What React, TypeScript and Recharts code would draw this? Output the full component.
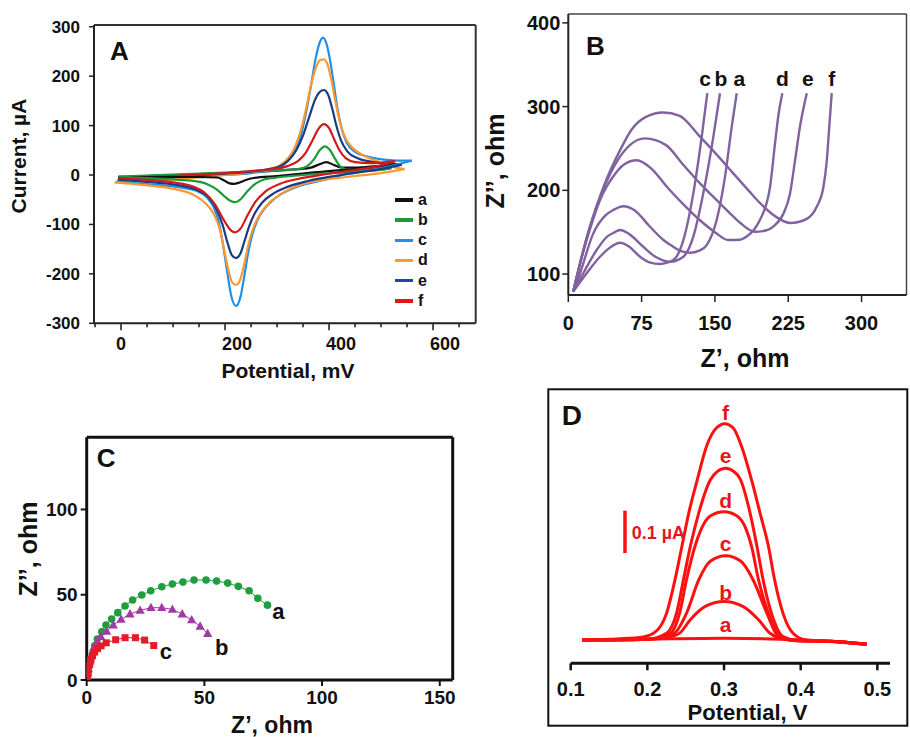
import React from 'react';
import { LineChart, Line, XAxis, YAxis, ScatterChart, Scatter, ReferenceDot, ReferenceLine, Legend } from 'recharts';

const FONT = '"Liberation Sans", Arial, Helvetica, sans-serif';

// ---------- Panel A : cyclic voltammograms (potential mV, current µA) ----------
const aXTicks = [-50, 0, 50, 100, 150, 200, 250, 300, 350, 400, 450, 500, 550, 600, 650];
const aYTicks = [-300, -200, -100, 0, 100, 200, 300];
const aXDomain = [-52, 682];
const aYDomain = [-300, 303.5];

const cvA_fwd = [[-5,-4],[50,-2],[100,0],[150,2],[200,4],[250,6],[300,9],[340,12],[365,15],[380,21],[395,26],[410,20],[424,15],[450,15],[490,18],[530,22]];
const cvA_rev = [[-5,-4],[50,-4],[100,-4],[150,-4],[185,-5],[200,-12],[209,-17],[217,-18],[228,-15],[240,-10],[255,-6],[300,-2],[350,3],[400,8],[450,12],[500,17],[530,22]];
const cvB_fwd = [[-5,-3],[50,-1],[100,1],[150,3],[200,5],[250,7],[300,9],[340,12],[358,18],[372,33],[382,50],[392,58],[402,50],[412,32],[422,17],[440,9],[470,9],[500,11],[520,14]];
const cvB_rev = [[-5,-3],[50,-6],[100,-9],[140,-12],[165,-18],[185,-30],[200,-44],[210,-52],[219,-55],[230,-49],[243,-33],[258,-18],[275,-9],[300,-5],[350,0],[400,4],[450,7],[500,11],[520,14]];
const cvC_fwd = [[-8,-12],[50,-9],[100,-6],[150,-3],[200,0],[250,4],[285,10],[306,16],[322,30],[335,50],[347,85],[357,133],[366,185],[374,235],[381,265],[388,278],[395,266],[402,232],[409,185],[416,135],[424,95],[434,65],[450,47],[472,38],[498,32],[530,29],[559,29]];
const cvC_rev = [[-8,-12],[43,-18],[107,-24],[145,-32],[165,-45],[178,-65],[188,-95],[196,-140],[204,-195],[212,-245],[221,-265],[230,-245],[237,-205],[244,-160],[252,-122],[262,-92],[276,-68],[295,-48],[320,-32],[350,-20],[390,-10],[434,2],[500,14],[559,29]];
const cvD_fwd = [[-12,-15],[50,-12],[100,-9],[150,-5],[200,0],[250,6],[285,12],[306,20],[322,35],[335,58],[347,95],[357,140],[366,185],[375,218],[382,232],[390,234],[397,224],[404,195],[412,150],[420,110],[430,78],[445,55],[470,38],[500,25],[525,16],[545,12]];
const cvD_rev = [[-12,-15],[40,-20],[100,-28],[135,-38],[160,-55],[178,-78],[190,-110],[199,-155],[207,-195],[214,-218],[221,-222],[229,-212],[237,-180],[245,-140],[255,-105],[268,-78],[285,-56],[305,-40],[330,-26],[370,-13],[434,-4],[500,4],[545,12]];
const cvE_fwd = [[-6,-9],[50,-6],[100,-3],[150,0],[200,3],[250,7],[285,12],[306,18],[322,30],[337,50],[350,80],[362,118],[373,152],[382,168],[390,172],[398,163],[406,135],[414,100],[423,70],[435,48],[455,34],[480,27],[510,23],[540,21]];
const cvE_rev = [[-6,-9],[50,-14],[107,-20],[145,-30],[168,-45],[183,-68],[195,-100],[205,-138],[213,-162],[221,-168],[229,-160],[237,-135],[246,-105],[257,-78],[272,-55],[292,-38],[320,-24],[360,-12],[410,-2],[460,6],[510,14],[540,21]];
const cvF_fwd = [[-5,-6],[50,-4],[100,-2],[150,1],[200,4],[250,8],[290,12],[320,18],[340,28],[355,45],[368,70],[380,94],[390,103],[400,95],[410,72],[420,50],[432,34],[450,26],[480,24],[510,26],[527,28]];
const cvF_rev = [[-5,-6],[50,-10],[100,-15],[140,-24],[163,-38],[181,-60],[196,-88],[208,-108],[219,-116],[230,-108],[243,-82],[258,-55],[278,-33],[305,-18],[340,-8],[390,1],[440,9],[490,17],[527,28]];

// ---------- Panel B : Nyquist plots (Z', Z'') ----------
const bXTicks = [0, 75, 150, 225, 300];
const bYTicks = [100, 200, 300, 400];
const bXDomain = [0, 346];
const bYDomain = [75, 410.6];
const eisB_a = [[5,79],[12,101],[25.6,148.6],[38,170],[46,176.5],[56.3,181],[68,176],[83.6,156.5],[97,141],[107.4,132.6],[116,127],[124.5,125.4],[134,128],[141.6,134.6],[151.8,164.5],[160.3,216],[167.2,276],[172.3,316]];
const eisB_b = [[5,79],[15.3,101],[29,128.7],[40,145],[46,149],[52.9,152.6],[62,148],[76.7,132.6],[90,120],[104,114.7],[117.7,120.7],[127.9,144.6],[138.1,196.4],[148.4,264],[155.2,316]];
const eisB_c = [[5,79],[18.8,101],[32.4,120.7],[42,131],[52.9,137.4],[62,133],[73.4,120.7],[83,114],[93.8,112],[107.4,116.7],[117.7,140.6],[127.9,196.4],[136.5,264],[142.2,316]];
const eisB_d = [[5,79],[12,112],[22,153],[33,190],[45,215],[57,231],[70,236],[85,226],[101,204],[118,183],[135,164],[150,150],[163.7,140.6],[175,141],[182.5,145],[190,153],[196,164.5],[206.4,204],[211.5,256],[215,290],[219,316]];
const eisB_e = [[5,79],[12,113],[22,156],[36,202],[50,235],[63,254],[78.5,262],[100,254],[118,230],[135,208],[152,188],[165,173],[176,161],[191,150.5],[202,152],[210,157],[220,172],[226.8,196],[232,236],[237,276],[244,316]];
const eisB_f = [[5,79],[12,113],[22,156],[36,204],[53,248],[65,273],[80,288],[97,293],[114,289],[134,265],[150,245],[169,220],[185,199],[196,185],[213,168],[227,161],[244,166],[254,180],[261,204],[264.5,236],[267,276],[269.5,316]];
const bLabels = [['c',140],['b',156.2],['a',175],['d',219],['e',245],['f',269.5]];

// ---------- Panel C : Nyquist plots with markers ----------
const cXTicks = [0, 50, 100, 150];
const cYTicks = [0, 50, 100];
const cXDomain = [0, 155.5];
const cYDomain = [0, 142.3];
const eisC_a = [[0.8,5],[1.5,10],[2.4,15],[3.4,20],[4.5,24],[6.4,28.3],[8.2,32.2],[10.6,35.7],[13.2,39.5],[16.3,43.4],[19.5,46.9],[23.4,49.8],[27.2,52.3],[31.9,54.7],[36.4,56.3],[40.9,57.4],[45.6,58.6],[50.7,58.6],[55.2,58],[59.9,56.8],[64.4,54.9],[69,52.3],[72.7,47.9],[76.8,43.9]];
const eisC_b = [[0.5,4],[1,9],[1.8,14],[3,19],[4.4,22.5],[6,25.5],[8.5,28.5],[11.3,32.2],[14.6,35.6],[18.4,38.7],[22.7,40.8],[27.3,42.4],[31.9,42.4],[36.4,41.4],[40.6,38.7],[44.6,35.2],[48.2,31.5],[51.4,27.2]];
const eisC_c = [[0.3,1],[0.5,3.5],[0.8,6.5],[1.2,9.3],[1.8,12],[2.5,14.3],[3.4,16.4],[4.6,18.4],[6.1,20],[8.3,21.8],[12.3,23.6],[16.3,24.8],[20.7,24.8],[24.6,23.4],[28.5,20.2]];
const cLabels = [['a',81.4,40.3],['b',57.4,19.2],['c',33.6,16.7]];

// ---------- Panel D : DPV peaks (V, µA) ----------
const dXTicks = [0.1, 0.2, 0.3, 0.4, 0.5];
const dpvA = [[0.115,0.004],[0.2,0.006],[0.3,0.008],[0.4,0.004],[0.486,-0.006]];
const dpvB = [[0.115,0.004],[0.2,0.006],[0.225,0.01],[0.242,0.02],[0.256,0.052],[0.275,0.083],[0.3,0.095],[0.325,0.083],[0.345,0.052],[0.36,0.02],[0.38,0.006],[0.45,0],[0.486,-0.006]];
const dpvC = [[0.115,0.004],[0.2,0.006],[0.235,0.02],[0.251,0.067],[0.267,0.146],[0.282,0.19],[0.302,0.203],[0.322,0.19],[0.338,0.146],[0.356,0.067],[0.371,0.012],[0.39,0.003],[0.45,0],[0.486,-0.006]];
const dpvD = [[0.115,0.004],[0.2,0.006],[0.23,0.02],[0.242,0.067],[0.251,0.146],[0.262,0.225],[0.27,0.265],[0.282,0.297],[0.3,0.307],[0.317,0.297],[0.329,0.265],[0.336,0.225],[0.345,0.146],[0.358,0.067],[0.373,0.012],[0.39,0.003],[0.45,0],[0.486,-0.006]];
const dpvE = [[0.115,0.004],[0.2,0.006],[0.225,0.02],[0.238,0.067],[0.247,0.146],[0.256,0.225],[0.267,0.304],[0.282,0.382],[0.291,0.402],[0.302,0.41],[0.313,0.402],[0.321,0.385],[0.334,0.304],[0.343,0.225],[0.351,0.146],[0.362,0.067],[0.377,0.012],[0.395,0.003],[0.45,0],[0.486,-0.006]];
const dpvF = [[0.115,0.004],[0.15,0.006],[0.19,0.01],[0.208,0.02],[0.225,0.067],[0.236,0.146],[0.245,0.225],[0.254,0.304],[0.265,0.382],[0.277,0.461],[0.29,0.505],[0.301,0.515],[0.312,0.505],[0.323,0.461],[0.336,0.382],[0.347,0.304],[0.358,0.225],[0.366,0.146],[0.377,0.067],[0.39,0.02],[0.408,0.004],[0.45,0],[0.486,-0.006]];
const dLabels = [['f',0.302,0.542],['e',0.302,0.4395],['d',0.302,0.333],['c',0.302,0.233],['b',0.302,0.116],['a',0.302,0.041]];
const scaleBar = { x: 0.1708, y0: 0.2097, y1: 0.3097, text: '0.1 µA', textY: 0.257 };

const pts = (arr: number[][]) => arr.map(([x, y]) => ({ x, y }));

const cvSeries = [
  { key: 'a', color: '#111111', legend: '#111111', fwd: pts(cvA_fwd), rev: pts(cvA_rev) },
  { key: 'b', color: '#1a9a3a', legend: '#1a9a3a', fwd: pts(cvB_fwd), rev: pts(cvB_rev) },
  { key: 'c', color: '#1e90e6', legend: '#1e90e6', fwd: pts(cvC_fwd), rev: pts(cvC_rev) },
  { key: 'd', color: '#ff9830', legend: '#ff9830', fwd: pts(cvD_fwd), rev: pts(cvD_rev) },
  { key: 'e', color: '#1c3c82', legend: '#2b40b0', fwd: pts(cvE_fwd), rev: pts(cvE_rev) },
  { key: 'f', color: '#d11a1a', legend: '#e0161e', fwd: pts(cvF_fwd), rev: pts(cvF_rev) },
];
const eisBSeries = [eisB_a, eisB_b, eisB_c, eisB_d, eisB_e, eisB_f].map(pts);
const dpvSeries = [dpvA, dpvB, dpvC, dpvD, dpvE, dpvF].map(pts);

const PURPLE = '#8062a0';
const C_GREEN = '#1e9e3e';
const C_PURPLE = '#a23aa6';
const C_RED = '#e31b2a';
const D_RED = '#ff1010';

const AxisTickA = (props: any) => {
  const { x, y, payload } = props;
  const v = Number(payload.value);
  const major = v % 200 === 0;
  return (
    <g>
      <line x1={x} x2={x} y1={y} y2={y + (major ? 7 : 4)} stroke="#222" strokeWidth={1.6} />
      {major ? (
        <text x={x + (v === 0 ? 0 : 12)} y={y + 27} textAnchor="middle" fontSize={18} fontWeight={700} fill="#111" fontFamily={FONT}>
          {v}
        </text>
      ) : null}
    </g>
  );
};

const LegendA = () => (
  <div style={{ position: 'relative', width: 50, height: 125, fontFamily: FONT }}>
    {cvSeries.map((s, i) => (
      <div key={s.key} style={{ position: 'absolute', left: 0, top: i * 20.15, height: 20, display: 'flex', alignItems: 'center' }}>
        <div style={{ width: 18, height: 3.5, background: s.legend }} />
        <span style={{ marginLeft: 5, fontSize: 16, fontWeight: 700, color: '#111', lineHeight: '20px' }}>{s.key}</span>
      </div>
    ))}
  </div>
);

const tickStyle = (size: number, fill = '#111') => ({ fontSize: size, fontWeight: 700, fill, fontFamily: FONT });

// top and right edges of a plot frame, placed at the domain limits
const frame = (xMax: number, yMax: number, stroke: string, w: number) => [
  <ReferenceLine key="ft" y={yMax} stroke={stroke} strokeWidth={w} ifOverflow="visible" />,
  <ReferenceLine key="fr" x={xMax} stroke={stroke} strokeWidth={w} ifOverflow="visible" />,
];

export default function App() {
  return (
    <div style={{ position: 'absolute', left: 0, top: 0, width: 910, height: 737, overflow: 'hidden', background: '#fff', fontFamily: FONT }}>
      {/* Panel A */}
      <div style={{ position: 'absolute', left: 0, top: 0 }}>
        <LineChart width={480} height={390} margin={{ top: 25, right: 4.3, bottom: 0, left: 0 }} style={{ fontFamily: FONT }}>
          <XAxis type="number" dataKey="x" domain={aXDomain} allowDataOverflow ticks={aXTicks} interval={0}
            tick={AxisTickA} tickLine={false} tickSize={0} tickMargin={0} height={66.7} axisLine={{ stroke: '#222', strokeWidth: 2 }} />
          <YAxis type="number" domain={aYDomain} allowDataOverflow ticks={aYTicks} interval={0} width={94} tickSize={5} tickMargin={9}
            tick={tickStyle(17)} axisLine={{ stroke: '#222', strokeWidth: 2 }} tickLine={{ stroke: '#222', strokeWidth: 1.5 }} />
          {frame(aXDomain[1], aYDomain[1], '#333', 2)}
          {cvSeries.map((s) => (
            <Line key={s.key + 'f'} data={s.fwd} dataKey="y" type="monotone" stroke={s.color} strokeWidth={2.2} dot={false} isAnimationActive={false} legendType="none" />
          ))}
          {cvSeries.map((s) => (
            <Line key={s.key + 'r'} data={s.rev} dataKey="y" type="monotone" stroke={s.color} strokeWidth={2.2} dot={false} isAnimationActive={false} legendType="none" />
          ))}
          <Legend layout="horizontal" verticalAlign="middle" align="center" content={() => <LegendA />}
            wrapperStyle={{ left: 395, top: 190, width: 50, height: 125 }} />
        </LineChart>
      </div>

      {/* Panel B */}
      <div style={{ position: 'absolute', left: 480, top: 0 }}>
        <LineChart width={430} height={380} margin={{ top: 14, right: 3.5, bottom: 0, left: 0 }} style={{ fontFamily: FONT }}>
          <XAxis type="number" dataKey="x" domain={bXDomain} allowDataOverflow ticks={bXTicks} interval={0} height={85}
            tickSize={7} tickMargin={14} tick={tickStyle(20)} axisLine={{ stroke: '#222', strokeWidth: 2 }} tickLine={{ stroke: '#222', strokeWidth: 1.5 }} />
          <YAxis type="number" domain={bYDomain} allowDataOverflow ticks={bYTicks} interval={0} width={88.3} tickSize={6} tickMargin={2}
            tick={tickStyle(20)} axisLine={{ stroke: '#222', strokeWidth: 2 }} tickLine={{ stroke: '#222', strokeWidth: 1.5 }} />
          {frame(bXDomain[1], bYDomain[1], '#444', 1.5)}
          {eisBSeries.map((d, i) => (
            <Line key={'b' + i} data={d} dataKey="y" type="monotone" stroke={PURPLE} strokeWidth={2.4} dot={false} isAnimationActive={false} legendType="none" />
          ))}
          {bLabels.map(([t, x]) => (
            <ReferenceDot key={'bl' + t} x={x as number} y={333} r={0} fill="none" stroke="none"
              label={{ value: t as string, position: 'center', fontSize: 21, fontWeight: 700, fill: '#111', fontFamily: FONT }} />
          ))}
        </LineChart>
      </div>

      {/* Panel C */}
      <div style={{ position: 'absolute', left: 0, top: 420 }}>
        <ScatterChart width={470} height={317} margin={{ top: 17.3, right: 17.3, bottom: 0, left: 0 }} style={{ fontFamily: FONT }}>
          <XAxis type="number" dataKey="x" domain={cXDomain} allowDataOverflow ticks={cXTicks} interval={0} height={57}
            tickSize={6} tickMargin={5} tick={tickStyle(19)} axisLine={{ stroke: '#111', strokeWidth: 3 }} tickLine={{ stroke: '#111', strokeWidth: 2 }} />
          <YAxis type="number" dataKey="y" domain={cYDomain} allowDataOverflow ticks={cYTicks} interval={0} width={86.7} tickSize={6} tickMargin={3}
            tick={tickStyle(19)} axisLine={{ stroke: '#111', strokeWidth: 3 }} tickLine={{ stroke: '#111', strokeWidth: 2 }} />
          {frame(cXDomain[1], cYDomain[1], '#111', 3)}
          <Scatter data={pts(eisC_a)} fill={C_GREEN} line={{ stroke: C_GREEN, strokeWidth: 1 }} isAnimationActive={false}
            shape={(p: any) => <circle cx={p.cx} cy={p.cy} r={3.8} fill={C_GREEN} />} />
          <Scatter data={pts(eisC_b)} fill={C_PURPLE} line={{ stroke: C_PURPLE, strokeWidth: 1 }} isAnimationActive={false}
            shape={(p: any) => <polygon points={`${p.cx},${p.cy - 5} ${p.cx - 4.6},${p.cy + 3.4} ${p.cx + 4.6},${p.cy + 3.4}`} fill={C_PURPLE} />} />
          <Scatter data={pts(eisC_c)} fill={C_RED} line={{ stroke: C_RED, strokeWidth: 1 }} isAnimationActive={false}
            shape={(p: any) => <rect x={p.cx - 3.5} y={p.cy - 3.5} width={7} height={7} fill={C_RED} />} />
          {cLabels.map(([t, x, y]) => (
            <ReferenceDot key={'cl' + t} x={x as number} y={y as number} r={0} fill="none" stroke="none"
              label={{ value: t as string, position: 'center', fontSize: 22, fontWeight: 700, fill: '#111', fontFamily: FONT }} />
          ))}
        </ScatterChart>
      </div>

      {/* Panel D */}
      <div style={{ position: 'absolute', left: 540, top: 380 }}>
        <LineChart width={370} height={357} margin={{ top: 29, right: 20, bottom: 0, left: 30.7 }} style={{ fontFamily: FONT }}>
          <XAxis type="number" dataKey="x" domain={[0.1, 0.5165]} allowDataOverflow ticks={dXTicks} interval={0} height={73.7}
            tickFormatter={(v: number) => v.toFixed(1)} tickSize={7} tickMargin={11.7} tick={tickStyle(20)}
            axisLine={{ stroke: '#111', strokeWidth: 3 }} tickLine={{ stroke: '#111', strokeWidth: 2.5 }} />
          <YAxis hide type="number" domain={[-0.051, 0.55]} allowDataOverflow />
          {dpvSeries.map((d, i) => (
            <Line key={'d' + i} data={d} dataKey="y" type="monotone" stroke={D_RED} strokeWidth={3} dot={false} isAnimationActive={false} legendType="none" />
          ))}
          <ReferenceLine segment={[{ x: scaleBar.x, y: scaleBar.y0 }, { x: scaleBar.x, y: scaleBar.y1 }]} stroke={D_RED} strokeWidth={3.5} />
          <ReferenceDot x={scaleBar.x} y={scaleBar.textY} r={0} fill="none" stroke="none"
            label={{ value: scaleBar.text, position: 'right', offset: 6.7, fontSize: 18, fontWeight: 700, fill: '#e3161e', fontFamily: FONT }} />
          {dLabels.map(([t, x, y]) => (
            <ReferenceDot key={'dl' + t} x={x as number} y={y as number} r={0} fill="none" stroke="none"
              label={{ value: t as string, position: 'center', fontSize: 21, fontWeight: 700, fill: '#e3161e', fontFamily: FONT }} />
          ))}
        </LineChart>
      </div>

      {/* Titles, panel letters and frame */}
      <svg width={910} height={737} style={{ position: 'absolute', left: 0, top: 0, pointerEvents: 'none' }} fontFamily={FONT} fontWeight={700}>
        <text x={110} y={60} fontSize={26} fill="#111">A</text>
        <text x={586} y={55} fontSize={26} fill="#111">B</text>
        <text x={96.7} y={466.7} fontSize={26} fill="#111">C</text>
        <text x={561.7} y={425} fontSize={28} fill="#111">D</text>

        <text x={26} y={156} fontSize={21} fill="#111" textAnchor="middle" transform="rotate(-90 26 156)">Current, µA</text>
        <text x={288} y={378} fontSize={21} fill="#111" textAnchor="middle">Potential, mV</text>

        <text x={504} y={161} fontSize={25} fill="#111" textAnchor="middle" transform="rotate(-90 504 161)">Z’’, ohm</text>
        <text x={745} y={366.7} fontSize={25} fill="#111" textAnchor="middle">Z’, ohm</text>

        <text x={37} y={549} fontSize={25} fill="#111" textAnchor="middle" transform="rotate(-90 37 549)">Z’’, ohm</text>
        <text x={272} y={733} fontSize={23} fill="#111" textAnchor="middle">Z’, ohm</text>

        <text x={747.5} y={720} fontSize={22} fill="#111" textAnchor="middle">Potential, V</text>

        <rect x={548.3} y={389.3} width={359} height={336.4} fill="none" stroke="#111" strokeWidth={2} />
      </svg>
    </div>
  );
}
